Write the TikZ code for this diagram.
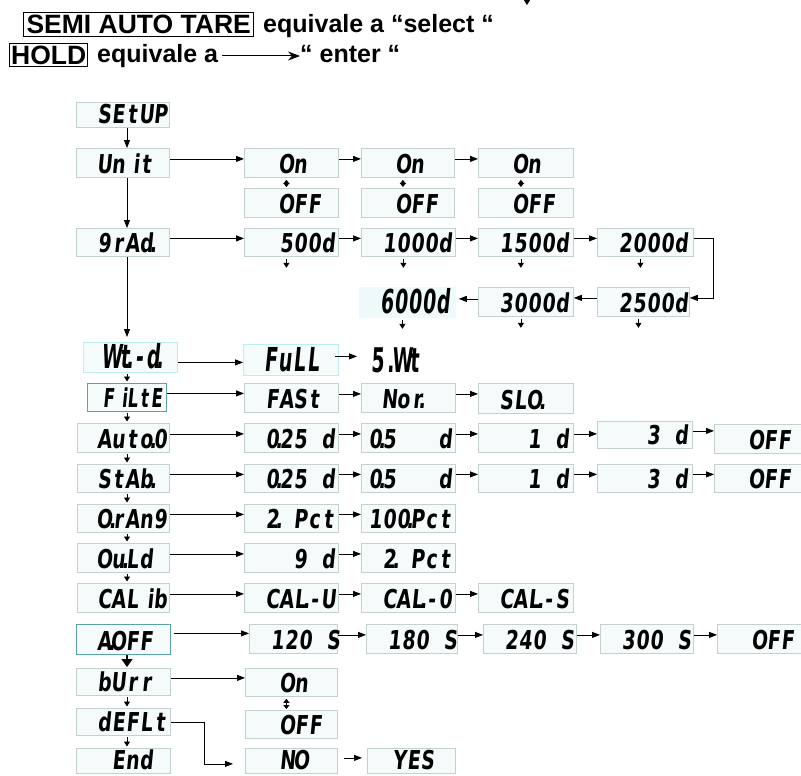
\documentclass[tikz,border=0pt]{standalone}
\usepackage{fontspec}
\usetikzlibrary{arrows.meta}
\newfontfamily\hdrf{Liberation Sans}
\newfontfamily\lcdf[FakeSlant=0.1,FakeStretch=0.72]{DejaVu Sans}
\newfontfamily\lcdt[FakeSlant=0.1,FakeStretch=0.57]{DejaVu Sans}
\newfontfamily\lcdn[FakeSlant=0.1,FakeStretch=0.63]{DejaVu Sans}
\newfontfamily\lcdw[FakeSlant=0.05,FakeStretch=0.55]{DejaVu Sans}
\newlength\cellw
\setlength\cellw{14pt}
\newcommand\sk{\hphantom{0}}
\newcommand\dz{\makebox[0pt][c]{.}}
\newcommand\ri[1]{\hspace{4pt}#1\hspace{-4pt}}
\newcommand\cells[1]{\cellsi#1\relax}
\def\cellsi#1{\ifx\relax#1\else\makebox[\cellw][c]{#1}\expandafter\cellsi\fi}
\definecolor{lcdfill}{HTML}{F5FBFB}
\definecolor{lcdline}{HTML}{C6D0D0}
\definecolor{tealb}{HTML}{5AA3A3}
\definecolor{cyanb}{HTML}{BDEEEE}
\definecolor{cyanf}{HTML}{EEF9F9}
\newcommand\LB[8][]{\node[lcd,#1] (#2) at (#3,#4) {\makebox[#5pt][l]{\rule[-4pt]{0pt}{#6pt}\hspace{#7pt}\cells{#8}}};}
\tikzset{
  lcd/.style={draw=lcdline, fill=lcdfill, line width=0.8pt, inner sep=0pt, anchor=north west,
    font=\lcdf\bfseries\fontsize{26}{26}\selectfont\setlength\cellw{14pt}},
  tall/.style={font=\lcdt\bfseries\fontsize{33}{33}\selectfont\setlength\cellw{14pt}},
  narrow/.style={font=\lcdn\bfseries\fontsize{26}{26}\selectfont\setlength\cellw{12pt}},
  wtbig/.style={inner sep=0pt, anchor=base west, font=\lcdw\bfseries\fontsize{34}{34}\selectfont\setlength\cellw{12.3pt}},
  arr/.style={line width=0.8pt, -{Triangle[length=8pt,width=6pt]}},
  sarr/.style={line width=0.8pt, -{Triangle[length=5pt,width=6pt]}},
  darr/.style={line width=0.8pt, {Triangle[length=4pt,width=6pt]}-{Triangle[length=4pt,width=6pt]}},
  barr/.style={line width=1.6pt, -{Triangle[length=8pt,width=11pt]}},
  harr/.style={line width=1pt, -{Stealth[length=12pt,width=9pt]}},
  hbox/.style={draw, line width=1.4pt, inner sep=0pt, anchor=north west, font=\hdrf\bfseries\fontsize{26.5}{26.5}\selectfont},
  htxt/.style={inner sep=0pt, anchor=base west, font=\hdrf\bfseries\fontsize{25}{25}\selectfont},
}
\newcommand\hc[2]{\draw[arr] ([yshift=4pt]#1.east) -- ([yshift=4pt]#1.east -| #2.west);}
\begin{document}
\begin{tikzpicture}[x=1pt,y=-1pt]
\useasboundingbox (0,0) rectangle (801,776);
\fill[white] (0,0) rectangle (801,776);
% header
\node[hbox, minimum width=230pt, minimum height=24pt] (sat) at (23,12) {SEMI AUTO TARE};
\node[htxt] (eq1) at (263,33) {equivale a “select “};
\node[hbox, minimum width=78pt, minimum height=23pt] (hold) at (9,43) {HOLD};
\node[htxt] (eq2) at (97,63) {equivale a};
\node[htxt] (ent) at (300,63) {“ enter “};
\draw[harr] ([shift={(4pt,7pt)}]eq2.base east) -- ([yshift=7pt]eq2.base east -| ent.west);
\coordinate (tA) at (527,-8);
\coordinate (tB) at (527,5);
\draw[sarr] (tA) -- (tB);
% left column
\LB{setup}{76}{102}{93}{25}{7}{\sk SEtUP}
\LB{unit}{76}{148}{93}{29}{7}{\sk Un{\ri{i}}t}
\LB{grad}{76}{228}{93}{28}{7}{\sk9rA{d\dz}}
\LB[tall,draw=cyanb]{wtd}{83}{342}{94}{30}{7}{\sk W{t\dz}-{d\dz}}
\LB[narrow,draw=tealb]{filte}{87}{383}{79}{28}{15}{F{\ri{i}}LtE}
\LB{auto}{77}{423}{92}{29}{6}{\sk Aut{o\dz}0}
\LB{stab}{77}{464}{92}{28}{6}{\sk StA{b\dz}}
\LB{orang}{77}{504}{92}{28}{6}{\sk{O\dz}rAn9}
\LB{ould}{77}{543}{92}{29}{6}{\sk O{u\dz}Ld}
\LB{calib}{77}{583}{92}{29}{6}{\sk CAL{\ri{i}}b}
\LB[draw=tealb]{aoff}{76}{624}{94}{30}{7}{\sk{A\dz}OFF}
\LB{burr}{76}{668}{94}{27}{7}{\sk bUrr}
\LB{deflt}{76}{708}{94}{27}{7}{\sk dEFLt}
\LB{end}{76}{748}{94}{25}{7}{\sk\sk End}
% unit row
\LB{uon1}{244}{148}{94}{29}{7}{\sk\sk On}
\LB{uon2}{361}{148}{93}{29}{7}{\sk\sk On}
\LB{uon3}{478}{148}{95}{29}{7}{\sk\sk On}
\LB{uoff1}{244}{188}{94}{29}{7}{\sk\sk OFF}
\LB{uoff2}{361}{188}{93}{29}{7}{\sk\sk OFF}
\LB{uoff3}{478}{188}{95}{29}{7}{\sk\sk OFF}
% grad rows
\LB{g500}{244}{228}{94}{28}{7}{\sk\sk500d}
\LB{g1000}{361}{228}{94}{28}{7}{\sk1000d}
\LB{g1500}{478}{228}{95}{28}{7}{\sk1500d}
\LB{g2000}{597}{228}{96}{28}{7}{\sk2000d}
\LB{g2500}{597}{287}{92}{29}{7}{\sk2500d}
\LB{g3000}{478}{287}{95}{29}{7}{\sk3000d}
\LB[tall,fill=cyanf,draw=cyanf]{g6000}{359}{287}{96}{30}{7}{\sk6000d}
% wt row
\LB[tall,draw=cyanb]{full}{243}{344}{95}{31}{7}{\sk FuLL}
\node[wtbig] (wt5) at (372,372) {\cells{5.Wt}};
% filter row
\LB{fast}{244}{383}{94}{29}{7}{\sk FASt}
\LB{nor}{361}{383}{94}{29}{7}{\sk No{r\dz}}
\LB{slo}{478}{383}{95}{30}{7}{\sk SL{O\dz}}
% auto row
\LB{a025}{244}{423}{94}{29}{7}{\sk{0\dz}25\sk d}
\LB{a05}{361}{423}{94}{29}{7}{{0\dz}5\sk\sk\sk d}
\LB{a1}{478}{423}{95}{29}{7}{\sk\sk\sk1\sk d}
\LB{a3}{597}{421}{95}{27}{7}{\sk\sk\sk3\sk d}
\LB{aof}{714}{424}{94}{29}{7}{\sk\sk OFF}
% stab row
\LB{s025}{244}{464}{94}{28}{7}{\sk{0\dz}25\sk d}
\LB{s05}{361}{464}{94}{28}{7}{{0\dz}5\sk\sk\sk d}
\LB{s1}{478}{464}{95}{28}{7}{\sk\sk\sk1\sk d}
\LB{s3}{597}{464}{95}{28}{7}{\sk\sk\sk3\sk d}
\LB{sof}{714}{464}{94}{28}{7}{\sk\sk OFF}
% range row
\LB{r2}{244}{504}{94}{28}{7}{\sk{2\dz}\sk Pct}
\LB{r100}{361}{504}{94}{28}{7}{10{0\dz}Pct}
% ould row
\LB{o9}{244}{543}{94}{29}{7}{\sk\sk\sk9\sk d}
\LB{o2}{361}{543}{94}{29}{7}{\sk{2\dz}\sk Pct}
% calib row
\LB{cu}{244}{583}{94}{29}{7}{\sk CA{L\dz}-U}
\LB{cz}{361}{583}{94}{29}{7}{\sk CA{L\dz}-0}
\LB{cs}{478}{583}{95}{29}{7}{\sk CA{L\dz}-S}
% aoff row
\LB{t120}{249}{624}{88}{29}{7}{\sk120\sk S}
\LB{t180}{366}{624}{91}{29}{7}{\sk180\sk S}
\LB{t240}{483}{624}{93}{29}{7}{\sk240\sk S}
\LB{t300}{600}{624}{93}{29}{7}{\sk300\sk S}
\LB{tof}{717}{624}{92}{29}{7}{\sk\sk OFF}
% burr / default
\LB{bon}{245}{668}{92}{28}{7}{\sk\sk On}
\LB{boff}{245}{710}{92}{28}{7}{\sk\sk OFF}
\LB{no}{245}{748}{92}{25}{7}{\sk\sk NO}
\LB{yes}{367}{748}{88}{25}{11}{\sk YES}
% spine
\coordinate (sp) at (127,0);
\draw[arr] (sp |- setup.south) -- (sp |- unit.north);
\draw[arr] (sp |- unit.south) -- (sp |- grad.north);
\draw[arr, shorten >=5pt] (sp |- grad.south) -- (sp |- wtd.north);
\foreach \a/\b in {wtd/filte, filte/auto, auto/stab, stab/orang, orang/ould, ould/calib, burr/deflt, deflt/end}
  \draw[sarr, shorten <=1pt, shorten >=1.5pt] (sp |- \a.south) -- (sp |- \b.north);
\draw[barr, shorten >=1pt] (sp |- aoff.south) -- (sp |- burr.north);
% horizontal arrows
\hc{unit}{uon1}\hc{uon1}{uon2}\hc{uon2}{uon3}
\hc{grad}{g500}\hc{g500}{g1000}\hc{g1000}{g1500}\hc{g1500}{g2000}
\draw[arr] ([yshift=4pt]g2000.east) -- ++(20,0) |- ([yshift=4pt]g2500.east);
\draw[arr] ([yshift=4pt]g2500.west) -- ([yshift=4pt]g2500.west -| g3000.east);
\draw[arr, shorten >=3pt] ([yshift=3pt]g3000.west) -- ([yshift=3pt]g3000.west -| g6000.east);
\draw[arr] ([yshift=-5pt]wtd.east) -- ([yshift=-5pt]wtd.east -| full.west);
\draw[arr, shorten <=-4pt, shorten >=15pt] ([yshift=3.5pt]full.east) -- ([yshift=3.5pt]full.east -| wt5.west);
\hc{filte}{fast}\hc{fast}{nor}\hc{nor}{slo}
\hc{auto}{a025}\hc{a025}{a05}\hc{a05}{a1}\hc{a1}{a3}\hc{a3}{aof}
\hc{stab}{s025}\hc{s025}{s05}\hc{s05}{s1}\hc{s1}{s3}\hc{s3}{sof}
\hc{orang}{r2}\hc{r2}{r100}
\hc{ould}{o9}\hc{o9}{o2}
\hc{calib}{cu}\hc{cu}{cz}\hc{cz}{cs}
\draw[arr, shorten <=3pt] ([yshift=6pt]aoff.east) -- ([yshift=6pt]aoff.east -| t120.west);
\hc{t120}{t180}\hc{t180}{t240}\hc{t240}{t300}\hc{t300}{tof}
\hc{burr}{bon}
\draw[arr] (deflt.east) -- ++(34,0) |- ([shift={(-12pt,-3pt)}]no.west);
\draw[arr, shorten <=6pt, shorten >=5pt] ([yshift=3pt]no.east) -- ([yshift=3pt]no.east -| yes.west);
% double arrows
\foreach \a/\b in {uon1/uoff1, uon2/uoff2, uon3/uoff3, bon/boff}
  \draw[darr, shorten <=2pt, shorten >=1pt] ([xshift=-5pt]\a.south) -- ([xshift=-5pt]\b.north);
% small down arrows
\foreach \a in {g500, g1000, g1500, g2000, g2500, g3000, g6000}
  \draw[sarr] ([shift={(-5pt,-2pt)}]\a.south) -- ++(0,9);
\end{tikzpicture}
\end{document}
